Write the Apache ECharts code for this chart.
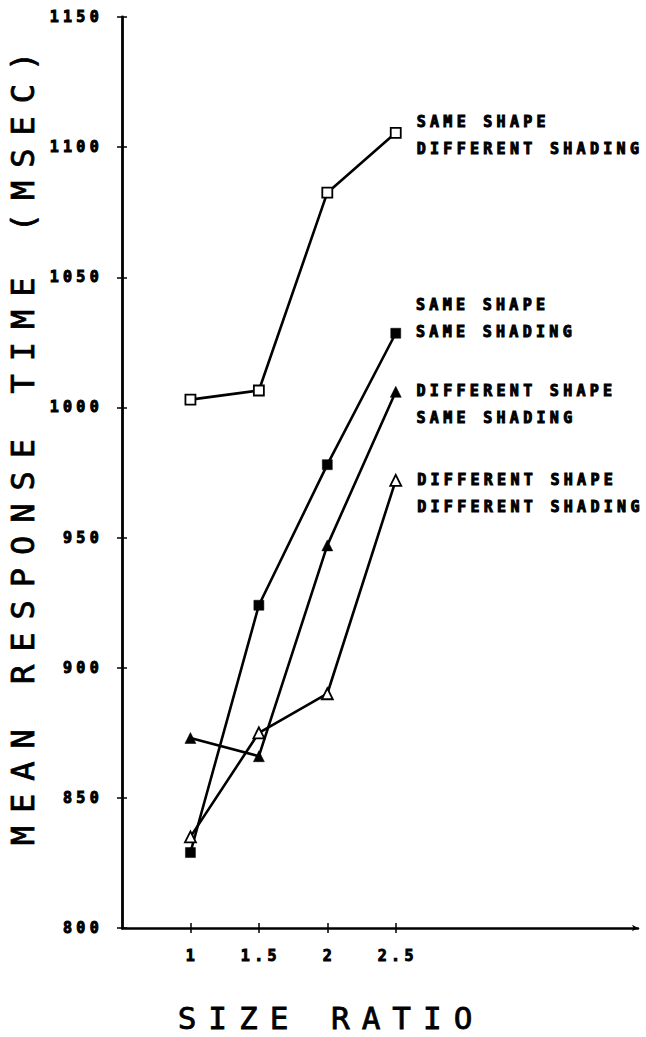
<!DOCTYPE html>
<html>
<head>
<meta charset="utf-8">
<script src="https://cdn.jsdelivr.net/npm/echarts@6/dist/echarts.min.js"></script>
<style>
  html, body { margin: 0; padding: 0; background: #fff; }
  #chart { width: 646px; height: 1037px; }
  #chart text[style*="15px"] { letter-spacing: 4.3px; }
  #chart text[style*="32px"] { letter-spacing: 13px; }
  #chart text[style*="31px"] { letter-spacing: 12px; }
</style>
</head>
<body>
<div id="chart"></div>
<script>
// ---- data ----
const sizeRatios = [1, 1.5, 2, 2.5];
const sameShapeDiffShading = [1003, 1006.5, 1082.5, 1105.5];
const sameShapeSameShading = [829, 924, 978, 1028.5];
const diffShapeSameShading = [873, 866, 947, 1006];
const diffShapeDiffShading = [835, 875, 890, 972];
const seriesNames = [
  'SAME SHAPE\nDIFFERENT SHADING',
  'SAME SHAPE\nSAME SHADING',
  'DIFFERENT SHAPE\nSAME SHADING',
  'DIFFERENT SHAPE\nDIFFERENT SHADING'
];
const yTicks = [800, 850, 900, 950, 1000, 1050, 1100, 1150];
const yTitle = 'MEAN RESPONSE TIME (MSEC)';
const xTitle = 'SIZE RATIO';

const smallFont = {
  fontFamily: 'DejaVu Sans Mono', fontWeight: 'bold', fontSize: 15, color: '#000',
  textBorderColor: '#000', textBorderWidth: 1
};

function makeSeries(name, values, symbol, filled, labelOffset) {
  return {
    name: name,
    type: 'line',
    xAxisIndex: 0,
    yAxisIndex: 0,
    data: values.map((v, i) => {
      const item = { value: [sizeRatios[i], v] };
      if (i === values.length - 1) {
        item.label = {
          show: true,
          position: 'right',
          distance: 15,
          offset: labelOffset,
          formatter: name,
          lineHeight: 27,
          align: 'left',
          ...smallFont
        };
      }
      return item;
    }),
    symbol: symbol,
    symbolSize: symbol === 'triangle' ? 11 : 10,
    showAllSymbol: true,
    lineStyle: { color: '#000', width: 2.6 },
    itemStyle: filled
      ? { color: '#000', borderColor: '#000', borderWidth: 0.5 }
      : { color: '#fff', borderColor: '#000', borderWidth: 1.8 },
    label: { show: false },
    emphasis: { disabled: true },
    animation: false,
    z: filled ? 3 : 4
  };
}

const chart = echarts.init(document.getElementById('chart'), null, { renderer: 'svg' });
chart.setOption({
  backgroundColor: '#fff',
  animation: false,
  grid: { left: 122, top: 17, width: 516, height: 911, outerBoundsMode: 'none', containLabel: false },
  xAxis: [
    {
      type: 'value', min: 0.5, max: 4.27,
      axisLine: { show: true, lineStyle: { color: '#000', width: 2.5 }, symbol: ['none', 'arrow'], symbolSize: [5, 6] },
      axisTick: { show: true, length: 5, lineStyle: { color: '#000', width: 1.5 }, customValues: sizeRatios },
      axisLabel: { show: true, margin: 20, customValues: sizeRatios, formatter: v => String(v), padding: [0, 0, 0, 4], ...smallFont },
      splitLine: { show: false }
    },
    {
      type: 'value', min: 0.5, max: 4.27, position: 'bottom',
      axisLine: { show: false },
      axisTick: { show: true, inside: true, length: 5, lineStyle: { color: '#000', width: 1.5 }, customValues: sizeRatios },
      axisLabel: { show: false },
      splitLine: { show: false }
    }
  ],
  yAxis: [
    {
      type: 'value', min: yTicks[0], max: yTicks[yTicks.length - 1], interval: 50,
      axisLine: { show: true, lineStyle: { color: '#000', width: 2.8 } },
      axisTick: { show: true, length: 5, lineStyle: { color: '#000', width: 1.5 } },
      axisLabel: { show: true, margin: 19, formatter: v => String(v), ...smallFont },
      splitLine: { show: false }
    },
    {
      type: 'value', min: yTicks[0], max: yTicks[yTicks.length - 1], interval: 50, position: 'left',
      axisLine: { show: false },
      axisTick: { show: true, inside: true, length: 5, lineStyle: { color: '#000', width: 1.5 } },
      axisLabel: { show: false },
      splitLine: { show: false }
    }
  ],
  graphic: [
    {
      type: 'text', x: 23, y: 442, rotation: Math.PI / 2,
      style: { text: yTitle, fontFamily: 'DejaVu Sans Mono', fontSize: 32, fill: '#000', stroke: '#000', lineWidth: 0.8, align: 'center', verticalAlign: 'middle' }
    },
    {
      type: 'text', x: 331, y: 1018,
      style: { text: xTitle, fontFamily: 'DejaVu Sans Mono', fontSize: 31, fill: '#000', stroke: '#000', lineWidth: 0.8, align: 'center', verticalAlign: 'middle' }
    }
  ],
  series: [
    makeSeries(seriesNames[0], sameShapeDiffShading, 'rect', false, [0, 3]),
    makeSeries(seriesNames[1], sameShapeSameShading, 'rect', true, [0, -15]),
    makeSeries(seriesNames[2], diffShapeSameShading, 'triangle', true, [0, 13]),
    makeSeries(seriesNames[3], diffShapeDiffShading, 'triangle', false, [0, 13])
  ]
});
</script>
</body>
</html>
